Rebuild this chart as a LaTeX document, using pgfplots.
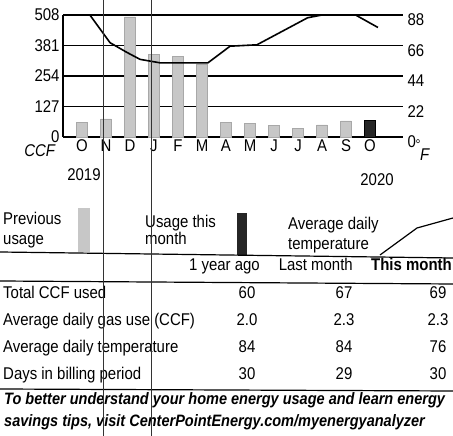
\documentclass[border=0pt]{standalone}
\usepackage{fontspec}
\setmainfont{Liberation Sans}[FakeStretch=0.88]
\usepackage{pgfplots}
\pgfplotsset{compat=1.18}
\newcommand\F{\fontsize{17bp}{20bp}\selectfont}
\definecolor{prevbar}{gray}{0.78}
\definecolor{prevedge}{gray}{0.66}

\begin{document}
\begin{tikzpicture}[x=1bp,y=1bp]
\path[use as bounding box] (0,0) rectangle (453,436);
% usage bars (left axis, CCF)
\begin{axis}[at={(63bp,299bp)}, anchor=south west, scale only axis,
  width=340bp, height=122bp,
  xmin=-0.79, xmax=13.375, ymin=0, ymax=508,
  axis y line*=left, axis x line*=bottom,
  axis line style={line width=1.6bp, -},
  ymajorgrids, grid style={black, line width=1.6bp},
  major tick length=0pt,
  ytick={0,127,254,381,508},
  xtick={0,...,12},
  xticklabels={O,N,D,J,F,M,A,M,J,J,A,S,O},
  /pgf/number format/assume math mode=true,
  ticklabel style={font=\F},
  xticklabel style={inner sep=2.5bp},
  clip=false]
\addplot[ybar, bar width=0.45, bar shift=0pt, fill=prevbar, draw=prevedge]
  coordinates {(0,60) (1,75) (2,500) (3,345) (4,335) (5,305) (6,60) (7,58) (8,48) (9,36) (10,50) (11,67)};
\addplot[ybar, bar width=0.45, bar shift=0pt, fill=black!85, draw=black]
  coordinates {(12,69)};
\end{axis}
% temperature (right axis, F)
\begin{axis}[at={(63bp,299bp)}, anchor=south west, scale only axis,
  width=340bp, height=122bp,
  xmin=-0.79, xmax=13.375, ymin=0, ymax=88,
  axis y line*=right, axis x line=none,
  y axis line style={draw=none},
  major tick length=0pt,
  ytick={0,22,44,66,88},
  /pgf/number format/assume math mode=true,
  yticklabel style={font=\F, yshift=-5bp, xshift=1bp}]
\addplot[black, line width=1.6bp, line join=round] coordinates {
 (-0.75,88) (0.33,88) (1.17,68) (1.875,61) (2.42,56) (3.25,53.5) (5.25,53.5)
 (6.17,65.5) (7.29,66.5) (9.4,86) (10.0,88) (11.4,88) (12.33,79)};
\end{axis}
\begin{scope}[every node/.style={font=\F, inner sep=0pt}]
\node[anchor=mid] at (40,282) {\textit{CCF}};
\node[anchor=mid] at (84,258) {2019};
\node[anchor=mid] at (377,253) {2020};
\node[anchor=mid] at (418,289) {\fontsize{14bp}{14bp}\selectfont °};
\node[anchor=mid] at (425,278) {\textit{F}};
% legend
\node[anchor=mid west] at (3,214) {Previous};
\node[anchor=mid west] at (3,194) {usage};
\fill[prevbar] (78,184) rectangle (90,228);
\node[anchor=mid west] at (145,211) {Usage this};
\node[anchor=mid west] at (145,194) {month};
\fill[black!85] (237,181) rectangle (247,223);
\node[anchor=mid west] at (288,209) {Average daily};
\node[anchor=mid west] at (288,189) {temperature};
\draw[line width=1.2bp] (380,181) -- (417,208) -- (453,218);
\draw[line width=1.2bp] (0,184) -- (453,178);
% table header
\node[anchor=mid east] at (260,168) {1 year ago};
\node[anchor=mid east] at (353,168) {Last month};
\node[anchor=mid east] at (452,168) {\bfseries This month};
\draw[line width=1.2bp] (0,155) -- (453,152);
% rows
\node[anchor=mid west] at (3,140) {Total CCF used};
\node[anchor=mid] at (247,140) {60};
\node[anchor=mid] at (344,140) {67};
\node[anchor=mid] at (438,140) {69};
\node[anchor=mid west] at (3,113) {Average daily gas use (CCF)};
\node[anchor=mid] at (247,113) {2.0};
\node[anchor=mid] at (344,113) {2.3};
\node[anchor=mid] at (438,113) {2.3};
\node[anchor=mid west] at (3,86) {Average daily temperature};
\node[anchor=mid] at (247,86) {84};
\node[anchor=mid] at (344,86) {84};
\node[anchor=mid] at (438,86) {76};
\node[anchor=mid west] at (3,59) {Days in billing period};
\node[anchor=mid] at (247,59) {30};
\node[anchor=mid] at (344,59) {29};
\node[anchor=mid] at (438,59) {30};
\draw[line width=1.2bp] (0,47) -- (453,45);
\node[anchor=mid west, font=\fontsize{16.5bp}{19bp}\selectfont] at (4,34) {\bfseries\itshape To better understand your home energy usage and learn energy};
\node[anchor=mid west, font=\fontsize{16.5bp}{19bp}\selectfont] at (4,12) {\bfseries\itshape savings tips, visit CenterPointEnergy.com/myenergyanalyzer};
\end{scope}
% scan fold lines
\draw[black!80, line width=0.9bp] (103,0) -- (103,436);
\draw[black!80, line width=0.9bp] (151,0) -- (151,436);
\end{tikzpicture}
\end{document}
